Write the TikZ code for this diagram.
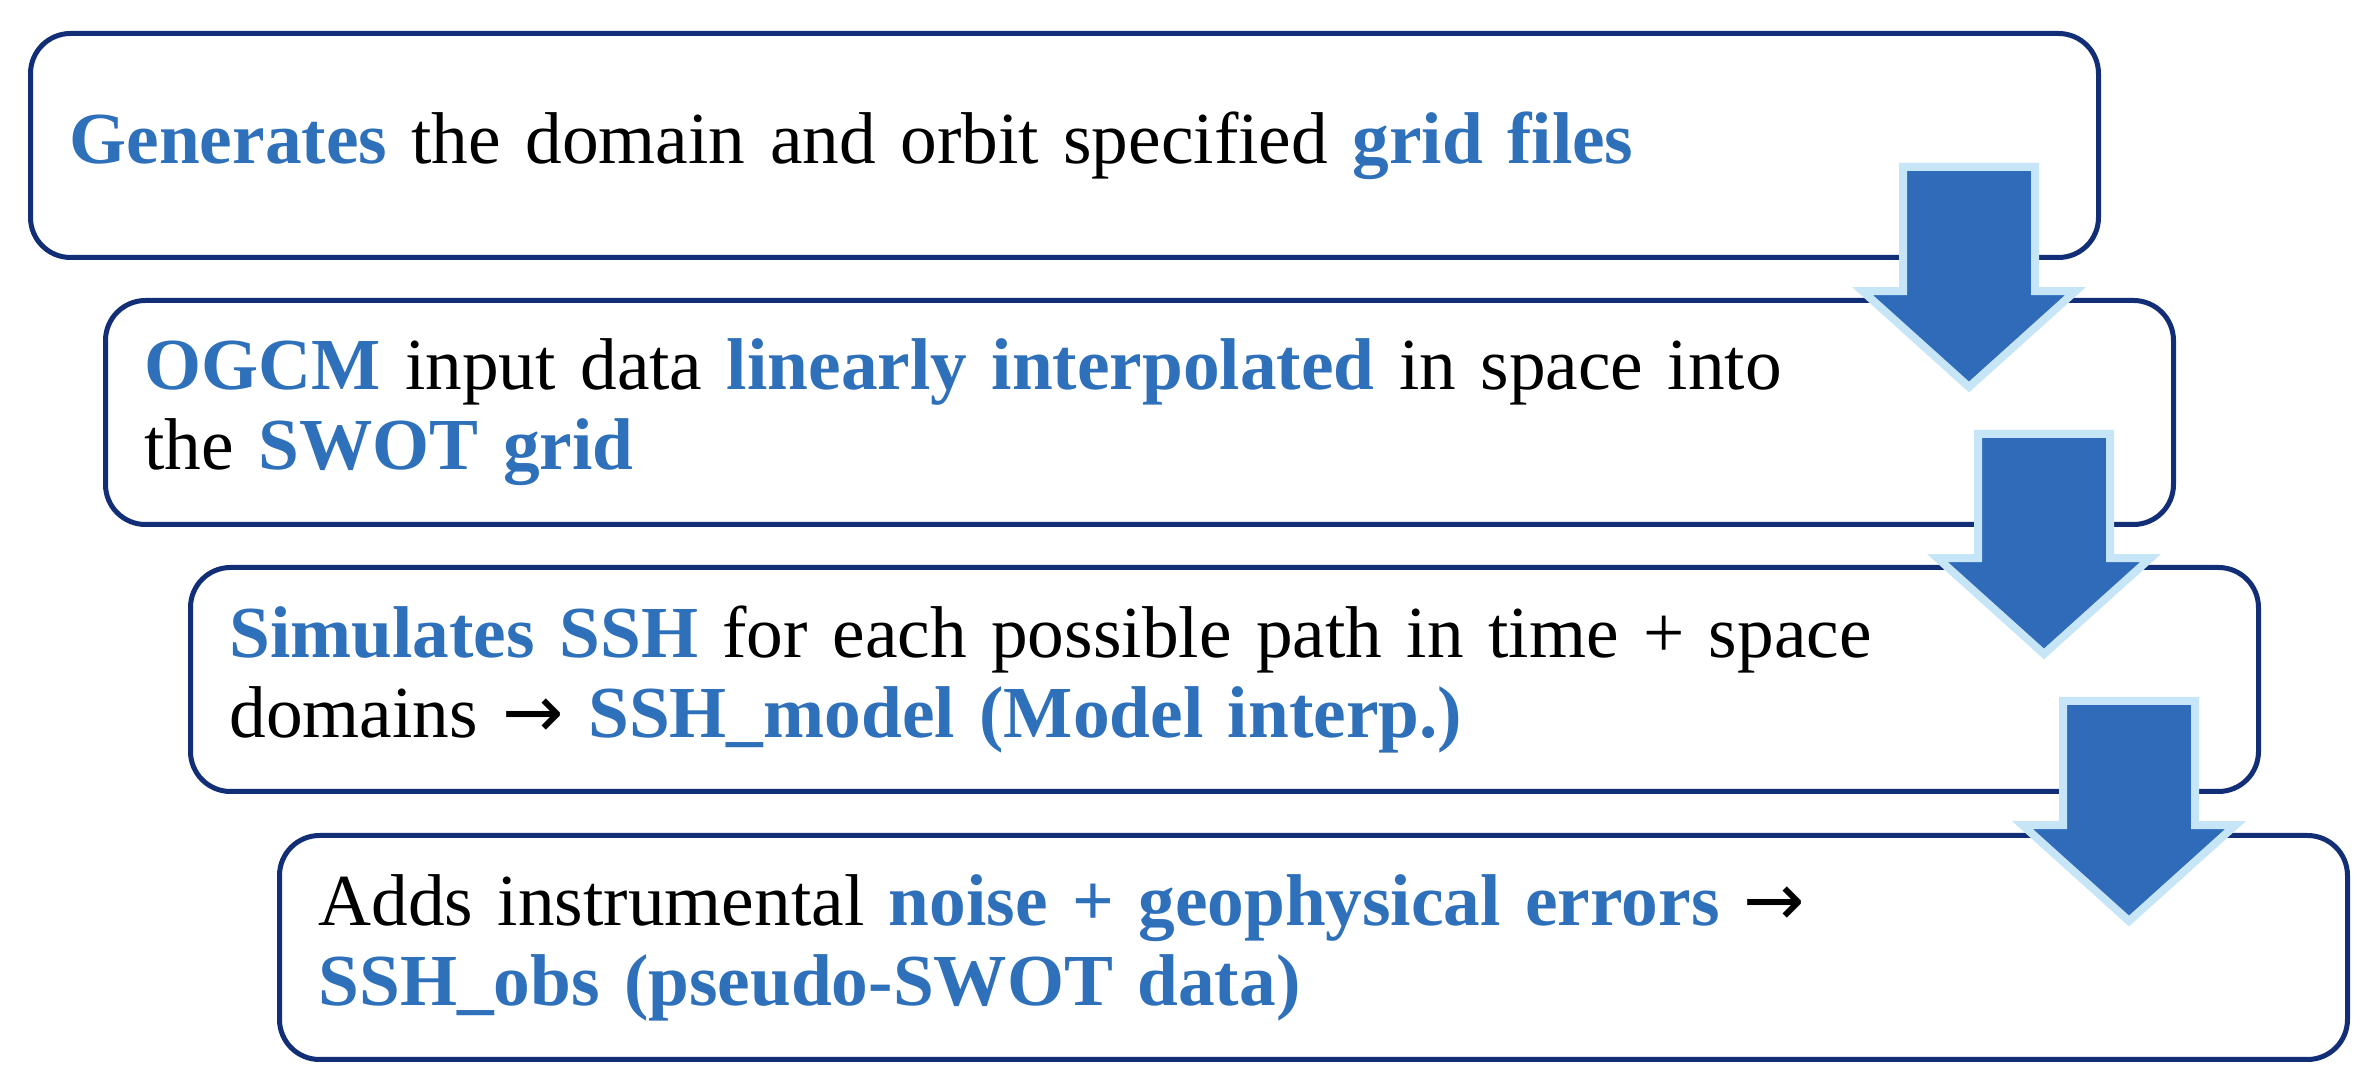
\documentclass[tikz,border=0pt]{standalone}
\usepackage{fontspec}
\setmainfont{Liberation Serif}
\newfontfamily\arrowfont{DejaVu Sans}
\usetikzlibrary{
  shapes.arrows,
  positioning,
  calc
}
\definecolor{boxnavy}{RGB}{18,46,118}
\definecolor{kwblue}{RGB}{46,112,186}
\definecolor{arrowfill}{RGB}{47,107,185}
\definecolor{arrowrim}{RGB}{198,230,248}
\newcommand{\kw}[1]{\textcolor{kwblue}{\textbf{#1}}}
\newcommand{\yields}{{\arrowfont →}}

\begin{document}
\begin{tikzpicture}[
      x=0.3pt, y=-0.3pt,
      stepbox/.style={
         rectangle,
         rounded corners=12pt,
         draw=boxnavy,
         line width=1.5pt,
         fill=white,
         minimum width=620.4pt,
         minimum height=67.2pt,
         text width=597pt,
         inner xsep=11.4pt,
         align=left,
         anchor=north west,
         font=\fontsize{22pt}{24pt}\selectfont
      },
      downarrow/.style={
         single arrow,
         shape border rotate=270,
         draw=arrowrim,
         line width=2.4pt,
         fill=arrowfill,
         inner sep=18.6pt,
         minimum width=61.8pt,
         minimum height=66pt,
         single arrow head extend=12.15pt,
         single arrow tip angle=96,
         anchor=tail
      }
    ]
    \useasboundingbox (0,0) rectangle (2372,1088);
    % the four steps
    \node (gen) [stepbox] at (28,31)
       {\kw{Generates} the domain and orbit specified \kw{grid files}};
    \node (interp) [stepbox] at (103,298)
       {\kw{OGCM} input data \kw{linearly interpolated} in space into\\
        the \kw{SWOT grid}};
    \node (simu) [stepbox] at (188,565)
       {\kw{Simulates SSH} for each possible path in time + space\\
        domains \yields{} \kw{SSH\_model (Model interp.)}};
    \node (noise) [stepbox] at (277,833)
       {Adds instrumental \kw{noise + geophysical errors} \yields\\
        \kw{SSH\_obs (pseudo-SWOT data)}};
    % block arrows between the steps
    \node (a1) [downarrow] at ($(gen.south east)+(-132,-97)$) {};
    \node (a2) [downarrow] at ($(interp.south east)+(-132,-97)$) {};
    \node (a3) [downarrow] at ($(simu.south east)+(-132,-97)$) {};
\end{tikzpicture}
\end{document}
